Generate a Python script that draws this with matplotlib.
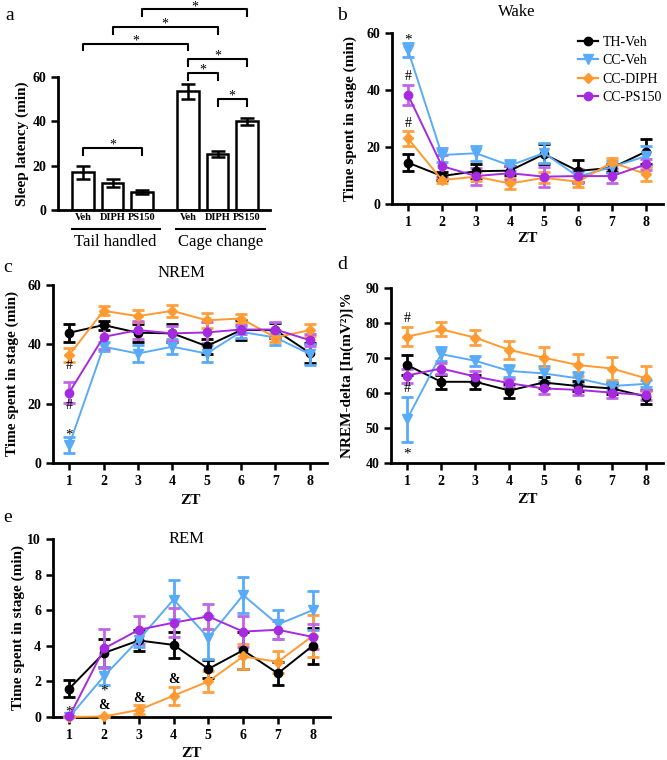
import numpy as np
import matplotlib
matplotlib.use("Agg")
import matplotlib.pyplot as plt
from matplotlib.lines import Line2D

plt.rcParams['font.family'] = ['Liberation Serif', 'DejaVu Serif']
plt.rcParams['axes.linewidth'] = 2

# ---- data ----
# panel a: sleep latency
lat_labels = ["Veh", "DIPH", "PS150", "Veh", "DIPH", "PS150"]
lat_mean = [17.0, 12.2, 8.1, 53.5, 25.2, 40.0]
lat_err = [3.0, 1.8, 0.8, 3.3, 1.5, 1.5]
groups = ["Tail handled", "Cage change"]

zt = [1, 2, 3, 4, 5, 6, 7, 8]
series = ["TH-Veh", "CC-Veh", "CC-DIPH", "CC-PS150"]

wake_mean = {
    "TH-Veh":   [14.5, 9.8, 11.5, 11.7, 17.5, 11.6, 12.7, 18.4],
    "CC-Veh":   [54.0, 17.2, 17.8, 13.5, 17.9, 9.6, 13.0, 16.8],
    "CC-DIPH":  [23.0, 8.4, 9.6, 7.2, 9.2, 7.8, 14.6, 10.5],
    "CC-PS150": [38.3, 13.3, 9.8, 10.8, 9.6, 9.8, 9.8, 13.9],
}
wake_err = {
    "TH-Veh":   [3.0, 1.5, 2.5, 1.5, 3.5, 4.0, 1.5, 4.5],
    "CC-Veh":   [2.5, 2.5, 2.7, 2.0, 3.5, 2.0, 2.0, 3.5],
    "CC-DIPH":  [2.7, 1.2, 1.5, 2.0, 2.0, 1.8, 1.5, 2.5],
    "CC-PS150": [3.5, 4.0, 3.0, 2.5, 3.5, 2.5, 2.5, 2.0],
}
nrem_mean = {
    "TH-Veh":   [43.9, 46.5, 43.9, 43.7, 39.4, 44.8, 44.8, 37.1],
    "CC-Veh":   [6.0, 39.2, 36.9, 39.2, 36.9, 44.2, 42.3, 36.7],
    "CC-DIPH":  [36.4, 51.3, 49.5, 51.3, 48.1, 48.7, 42.3, 44.8],
    "CC-PS150": [23.7, 42.5, 44.8, 43.7, 44.0, 45.0, 45.0, 41.4],
}
nrem_err = {
    "TH-Veh":   [3.0, 1.5, 3.0, 3.0, 2.5, 3.5, 2.5, 3.5],
    "CC-Veh":   [2.7, 1.5, 3.0, 2.5, 3.0, 2.0, 2.5, 3.5],
    "CC-DIPH":  [2.5, 1.5, 2.0, 2.0, 2.5, 1.5, 1.5, 2.0],
    "CC-PS150": [3.5, 4.0, 3.0, 2.5, 3.5, 1.5, 2.5, 2.0],
}
delta_mean = {
    "TH-Veh":   [68.0, 63.2, 63.2, 60.7, 63.0, 62.0, 61.3, 59.0],
    "CC-Veh":   [52.5, 71.1, 69.2, 66.3, 65.6, 64.2, 62.0, 62.6],
    "CC-DIPH":  [76.1, 78.2, 75.8, 72.3, 70.1, 68.0, 67.0, 64.2],
    "CC-PS150": [65.0, 67.0, 64.7, 62.8, 61.3, 60.9, 60.1, 59.4],
}
delta_err = {
    "TH-Veh":   [2.8, 2.0, 2.0, 2.0, 1.5, 1.5, 1.5, 2.0],
    "CC-Veh":   [6.5, 2.0, 1.5, 1.8, 2.2, 1.7, 1.2, 1.0],
    "CC-DIPH":  [2.7, 2.0, 2.2, 2.5, 3.0, 3.2, 3.2, 3.5],
    "CC-PS150": [2.0, 1.5, 1.5, 1.2, 1.5, 1.5, 1.5, 1.5],
}
rem_mean = {
    "TH-Veh":   [1.6, 3.6, 4.3, 4.05, 2.7, 3.75, 2.45, 4.0],
    "CC-Veh":   [0.0, 2.3, 4.35, 6.6, 4.45, 6.85, 5.2, 6.0],
    "CC-DIPH":  [0.0, 0.03, 0.4, 1.2, 2.0, 3.4, 3.1, 4.55],
    "CC-PS150": [0.03, 3.85, 4.9, 5.3, 5.65, 4.8, 4.9, 4.5],
}
rem_err = {
    "TH-Veh":   [0.5, 0.8, 0.6, 0.75, 0.5, 1.05, 0.65, 1.0],
    "CC-Veh":   [0.0, 0.5, 0.4, 1.1, 1.2, 1.0, 0.8, 1.1],
    "CC-DIPH":  [0.0, 0.05, 0.25, 0.5, 0.6, 0.7, 0.6, 1.2],
    "CC-PS150": [0.05, 1.1, 0.8, 0.8, 0.7, 0.85, 0.5, 0.7],
}

COL = {"TH-Veh": "black", "CC-Veh": "#5aabf7", "CC-DIPH": "#ff9a30", "CC-PS150": "#a52ae0"}
ECOL = {"TH-Veh": "black", "CC-Veh": "#5aabf7", "CC-DIPH": "#ffa040", "CC-PS150": "#c265e6"}
MARK = {"TH-Veh": "o", "CC-Veh": "v", "CC-DIPH": "D", "CC-PS150": "o"}
MSIZE = {"TH-Veh": 6, "CC-Veh": 6.5, "CC-DIPH": 5, "CC-PS150": 6}

fig = plt.figure(figsize=(6.67, 7.6), dpi=100)


def px_axes(l, t, r, b):
    W, H = 667.0, 760.0
    return fig.add_axes([l / W, 1 - b / H, (r - l) / W, (b - t) / H])


def style(ax):
    for s in ["top", "right"]:
        ax.spines[s].set_visible(False)
    ax.tick_params(width=1.8, length=5, labelsize=10)
    for lab in ax.get_xticklabels() + ax.get_yticklabels():
        lab.set_fontweight("bold")


def lines_panel(ax, means, errs, ylim, yticks, zt_y):
    for s in series:
        ax.errorbar(zt, means[s], yerr=errs[s], color=COL[s], ecolor=ECOL[s],
                    marker=MARK[s], ms=MSIZE[s], lw=1.4, elinewidth=2,
                    capsize=4, capthick=2, clip_on=False, zorder=3)
    ax.set_xlim(0.53, 8.5)
    ax.set_ylim(*ylim)
    ax.set_xticks(zt)
    ax.set_yticks(yticks)
    ax.set_xlabel("ZT", fontweight="bold", fontsize=11)
    ax.xaxis.set_label_coords(0.5, zt_y)
    style(ax)


def checker(ax, bar, cell_px, dark):
    x0, y0 = bar.get_x(), bar.get_y()
    x1, y1 = x0 + bar.get_width(), y0 + bar.get_height()
    p0 = ax.transData.transform((x0, y0))
    p1 = ax.transData.transform((x1, y1))
    nx = max(1, int(round((p1[0] - p0[0]) / cell_px)))
    ny = max(1, int(round((p1[1] - p0[1]) / cell_px)))
    iy, ix = np.indices((ny, nx))
    img = np.where((ix + iy) % 2 == 0, dark, 1.0)
    im = ax.imshow(img, extent=(x0, x1, y0, y1), cmap="gray", vmin=0, vmax=1,
                   aspect="auto", interpolation="nearest", zorder=1)
    im.set_clip_path(bar)


# ---- panel a ----
ax = px_axes(58, 77, 270, 210)
xpos = [0, 1, 2, 3.56, 4.56, 5.56]
bars = ax.bar(xpos, lat_mean, width=0.72, color="white", edgecolor="black",
              linewidth=1.8, zorder=2)
ax.errorbar(xpos, lat_mean, yerr=lat_err, fmt="none", ecolor="black",
            elinewidth=1.8, capsize=5, capthick=1.8, zorder=3)
ax.set_xlim(-0.85, 6.34)
ax.set_ylim(0, 60)
ax.set_yticks([0, 20, 40, 60])
for i in (1, 4):
    checker(ax, bars[i], 2.2, 0.35)
for i in (2, 5):
    checker(ax, bars[i], 3.3, 0.1)
ax.set_xticks(xpos)
ax.set_xticklabels(lat_labels)
ax.set_xticks([1, 4.56], minor=True)
style(ax)
ax.tick_params(axis="x", length=0, pad=2.5)
ax.tick_params(axis="x", which="minor", length=3, width=1.5)
for lab in ax.get_xticklabels():
    lab.set_fontsize(7.5)
ax.set_ylabel("Sleep latency (min)", fontweight="bold", fontsize=11)
ax.yaxis.set_label_coords(-0.135, 0.5)
for (g0, g1, xc), name in zip([(-0.37, 2.61, 1.1), (3.15, 6.17, 4.66)], groups):
    ax.plot([g0, g1], [-8.4, -8.4], color="black", lw=1.5, clip_on=False)
    ax.text(xc, -14.6, name, ha="center", va="center", fontsize=12)

brackets = [(0, 2, 28), (3.56, 4.56, 61.7), (4.56, 5.56, 50), (3.56, 5.56, 68),
            (0, 3.56, 75), (1, 4.56, 82.4), (2, 5.56, 90.5)]
for x0, x1, y in brackets:
    ax.plot([x0, x0, x1, x1], [y - 3, y, y, y - 3], color="black", lw=1.5,
            clip_on=False)
    ax.text((x0 + x1) / 2, y - 0.3, "*", ha="center", va="baseline", fontsize=10)

# ---- panel b: Wake ----
ax = px_axes(392, 33, 663, 204)
lines_panel(ax, wake_mean, wake_err, (0, 60), [0, 20, 40, 60], -0.164)
ax.set_ylabel("Time spent in stage (min)", fontweight="bold", fontsize=11)
ax.yaxis.set_label_coords(-0.129, 0.5)
ax.text(0.46, 1.12, "Wake", transform=ax.transAxes, ha="center", va="center",
        fontsize=12)
ax.text(1, 56.3, "*", ha="center", va="baseline", fontsize=11)
ax.text(1, 44.6, "#", ha="center", va="center", fontsize=10)
ax.text(1, 28.4, "#", ha="center", va="center", fontsize=10)
handles = [Line2D([], [], color=COL[s], marker=MARK[s], ms=MSIZE[s], lw=1.6)
           for s in series]
ax.legend(handles, series, loc="upper left", bbox_to_anchor=(0.685, 0.985),
          frameon=False, fontsize=10, handlelength=1.5, handletextpad=0.3,
          labelspacing=0.4, borderaxespad=0, borderpad=0)

# ---- panel c: NREM ----
ax = px_axes(53, 285, 327, 463)
lines_panel(ax, nrem_mean, nrem_err, (0, 60), [0, 20, 40, 60], -0.174)
ax.set_ylabel("Time spent in stage (min)", fontweight="bold", fontsize=11)
ax.yaxis.set_label_coords(-0.124, 0.5)
ax.text(0.47, 1.07, "NREM", transform=ax.transAxes, ha="center", va="center",
        fontsize=12)
ax.text(1, 33, "#", ha="center", va="center", fontsize=10)
ax.text(1, 19.5, "#", ha="center", va="center", fontsize=10)
ax.text(1, 9.5, "*", ha="center", va="center", fontsize=11)

# ---- panel d: NREM delta ----
ax = px_axes(391, 288, 663, 463)
lines_panel(ax, delta_mean, delta_err, (40, 90), [40, 50, 60, 70, 80, 90], -0.174)
ax.set_ylabel("NREM-delta [In(mV²)]%", fontweight="bold", fontsize=11)
ax.yaxis.set_label_coords(-0.136, 0.5)
ax.text(1, 81.3, "#", ha="center", va="center", fontsize=10)
ax.text(1, 61.3, "#", ha="center", va="center", fontsize=10)
ax.text(1, 42.7, "*", ha="center", va="center", fontsize=11)

# ---- panel e: REM ----
ax = px_axes(53, 539, 330, 717)
lines_panel(ax, rem_mean, rem_err, (0, 10), [0, 2, 4, 6, 8, 10], -0.168)
ax.set_ylabel("Time spent in stage (min)", fontweight="bold", fontsize=11)
ax.yaxis.set_label_coords(-0.10, 0.5)
ax.text(0.48, 1.0, "REM", transform=ax.transAxes, ha="center", va="center",
        fontsize=12)
ax.text(1, 0.3, "*", ha="center", va="center", fontsize=11)
ax.text(2, 1.45, "*", ha="center", va="center", fontsize=11)
for x, y in [(2, 0.65), (3, 1.05), (4, 2.1)]:
    ax.text(x, y, "&", ha="center", va="center", fontsize=10, fontweight="bold")

# panel letters
for letter, x, y in [("a", 10, 15), ("b", 342, 15), ("c", 8, 268),
                     ("d", 342, 265), ("e", 8, 518)]:
    fig.text(x / 667, 1 - y / 760, letter, fontsize=14, ha="center", va="center")

fig.savefig("out.png", dpi=100)
